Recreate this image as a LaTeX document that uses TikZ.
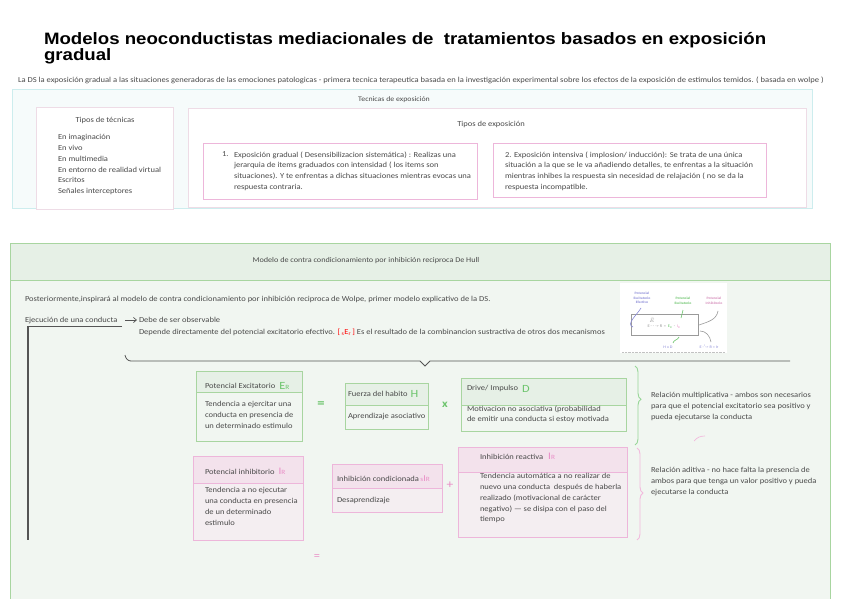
\documentclass[tikz,border=0pt]{standalone}
\usepackage{fontspec}
\setmainfont{Carlito}[FakeStretch=1.12]
\newfontfamily\titlefont{Liberation Sans}[FakeStretch=1.13]
\usetikzlibrary{decorations.pathreplacing,arrows.meta}
\definecolor{txt}{HTML}{4A4A4A}
\definecolor{cyanb}{HTML}{CDEDEE}
\definecolor{cyanf}{HTML}{F6FBFB}
\definecolor{pinkb}{HTML}{EDB6DA}
\definecolor{pinkl}{HTML}{EEDCE6}
\definecolor{pinkh}{HTML}{F3E2EC}
\definecolor{pinkf}{HTML}{F4EEF1}
\definecolor{pinkt}{HTML}{E98CC6}
\definecolor{greenb}{HTML}{A8D5A0}
\definecolor{greenh}{HTML}{E6F0E6}
\definecolor{greenf}{HTML}{F1F6F1}
\definecolor{greent}{HTML}{6CC46C}
\definecolor{linegray}{HTML}{555555}
\definecolor{imgblue}{HTML}{8C8CD8}
\definecolor{imggray}{HTML}{9A9A9A}
\begin{document}
\begin{tikzpicture}[x=1pt,y=-1pt,
  every node/.style={inner sep=0pt, outer sep=0pt},
  t/.style={font=\fontsize{7.6}{10.8}\selectfont, text=txt, align=left},
  ts/.style={font=\fontsize{7}{10}\selectfont, text=txt, align=left},
  cframe/.style={draw=cyanb, line width=1pt, fill=cyanf, rectangle},
  wframe/.style={draw=pinkl, line width=0.8pt, fill=white, rectangle},
  pframe/.style={draw=pinkb, line width=1pt, fill=white, rectangle},
  gframe/.style={draw=greenb, line width=1pt, fill=greenf, rectangle},
  ghead/.style={draw=greenb, line width=1pt, fill=greenh, rectangle},
  pbody/.style={draw=pinkb, line width=1pt, fill=pinkf, rectangle},
  phead/.style={draw=pinkb, line width=1pt, fill=pinkh, rectangle},
  gsym/.style={text=greent, font=\fontsize{11}{11}\selectfont},
  psym/.style={text=pinkt, font=\fontsize{10}{10}\selectfont},
  imgt/.style={font=\fontsize{3.4}{4.4}\selectfont\bfseries, align=center},
]
\useasboundingbox (0,0) rectangle (848,599);
\fill[white] (0,0) rectangle (848,599);

% Title
\node[anchor=north west, align=left, font=\titlefont\bfseries\fontsize{16.5}{14}\selectfont] (title) at (44,32)
  {Modelos neoconductistas mediacionales de \ tratamientos basados en exposición\\gradual};

\node[ts, anchor=base west, font=\fontsize{7.62}{9}\selectfont] (intro) at (18,82.5)
  {La DS la exposición gradual a las situaciones generadoras de las emociones patologicas - primera tecnica terapeutica basada en la investigación experimental sobre los efectos de la exposición de estimulos temidos. ( basada en wolpe )};

% Tecnicas de exposicion
\node[cframe, minimum width=800, minimum height=118] (tecbox) at (412,149) {};
\node[t, font=\fontsize{7}{9}\selectfont] (tectitle) at (394,100) {Tecnicas de exposición};
\node[wframe, minimum width=618, minimum height=99] (inner) at (497,157.5) {};
\node[t] (tiposexp) at (491,124) {Tipos de exposición};
\node[pframe, draw=pinkl, minimum width=137, minimum height=101] (tipos) at (104.5,158.5) {};
\node[t] (tipostitle) at (105,120) {Tipos de técnicas};
\node[t, anchor=north west] (tiposlist) at (58,134.5)
  {En imaginación\\En vivo\\En multimedia\\En entorno de realidad virtual\\Escritos\\Señales interceptores};

\node[pframe, minimum width=274, minimum height=56] (box1) at (340,171) {};
\node[t, anchor=north west] (box1num) at (222,151.5) {1.};
\node[t, anchor=north west] (box1txt) at (234,151.5)
  {Exposición gradual ( Desensibilizacion sistemática) : Realizas una\\
   jerarquia de items graduados con intensidad ( los items son\\
   situaciones). Y te enfrentas a dichas situaciones mientras evocas una\\
   respuesta contraria.};
\node[pframe, minimum width=273, minimum height=54] (box2) at (629.5,170) {};
\node[t, anchor=north west] (box2txt) at (505,151.5)
  {2. Exposición intensiva ( implosion/ inducción): Se trata de una única\\
   situación a la que se le va añadiendo detalles, te enfrentas a la situación\\
   mientras inhibes la respuesta sin necesidad de relajación ( no se da la\\
   respuesta incompatible.};

% Green section
\node[gframe, minimum width=820, minimum height=367] (gsec) at (420,426.5) {};
\node[ghead, minimum width=820, minimum height=37] (ghdr) at (420,261.5) {};
\node[t, font=\fontsize{7.3}{9}\selectfont] (ghdrtxt) at (366,261) {Modelo de contra condicionamiento por inhibición reciproca De Hull};

\node[t, anchor=base west] (post) at (25,301.5)
  {Posteriormente,inspirará al modelo de contra condicionamiento por inhibición reciproca de Wolpe, primer modelo explicativo de la DS.};

\node[t, anchor=base west] (ejec) at (25,322.5) {Ejecución de una conducta};
\coordinate (ulend) at (122,326);
\coordinate (ulcorner) at (28,326);
\coordinate (vend) at (28,540);
\draw[linegray, line width=0.9pt] (ulend) -- (ulcorner);
\draw[linegray, line width=2pt] (ulcorner) -- (vend);
\node[t, anchor=base west] (obs) at (139,322.5) {Debe de ser observable};
\coordinate (arrstart) at (125,320);
\draw[linegray, line width=0.7pt, -{Straight Barb[length=3pt,width=5pt]}] (arrstart) -- ([xshift=-2pt]obs.west |- arrstart);
\node[t, anchor=base west] (dep) at (139,334.5)
  {Depende directamente del potencial  excitatorio efectivo. \textcolor{red}{[\,\textsubscript{s}E\textsubscript{r}\,]} Es el resultado de la combinancion sustractiva de otros dos mecanismos};

% brace line
\coordinate (bl) at (125,355);
\coordinate (bv) at (425,366);
\coordinate (br) at (790,361);
\draw[linegray, line width=0.8pt] (bl) to[out=-80,in=180] (131,361) -- (420,361) -- (bv) -- (430,361) -- (br);

% formula image
\node[rectangle, fill=white, minimum width=107, minimum height=70] (img) at (673.5,318) {};
\draw[imggray!60, densely dotted, line width=0.4pt] (622,352) -- (725,352);
\node[imgt, text=imgblue] (ipe) at (642,298) {Potencial\\Excitatorio\\Efectivo};
\node[imgt, text=greent] (ipx) at (683,301) {Potencial\\Excitatorio};
\node[imgt, text=pinkt!80!gray] (ipi) at (714,301) {Potencial\\Inhibitorio};
\node[rectangle, draw=imggray, line width=0.6pt, minimum width=67, minimum height=21] (ibox) at (664.5,324.5) {};
\node[imgt, text=imggray, font=\fontsize{4}{5}\selectfont] (iform) at (664,327)
  {E\,- - -> R \,=\, \textcolor{greent}{E\textsubscript{R}} \,-\, \textcolor{pinkt}{I\textsubscript{R}}};
\node[imgt, text=imggray, font=\fontsize{3.6}{4}\selectfont] (ibar) at (652,320) {$\bar{E}$};
\node[imgt, text=imgblue, font=\fontsize{3.8}{5}\selectfont] (ihd) at (668,347) {H x D};
\node[imgt, text=imgblue, font=\fontsize{3.8}{5}\selectfont] (ier) at (709,347) {E -\textsuperscript{I}-> R = Ir};
\draw[imgblue, line width=0.6pt] (641,308) to[out=240,in=160] (633,327);
\draw[greent, line width=0.6pt] (683,310) -- (681,318);
\draw[imggray, line width=0.6pt] (718,311) to[out=260,in=20] (699,325);
\draw[greent, line width=0.6pt] (679,337) to[out=250,in=80] (673,343);
\draw[imggray, line width=0.6pt] (700,331) to[out=0,in=100] (711,342);

% Green formula boxes
\node[gframe, minimum width=106, minimum height=70] (pe) at (249,406) {};
\node[ghead, minimum width=106, minimum height=21] (pehead) at (249,381.5) {};
\node[t, anchor=base west] (petitle) at (205,388.5) {Potencial Excitatorio};
\node[gsym, anchor=base west] (pesym) at ([xshift=4pt,yshift=-0.5pt]petitle.base east) {E\fontsize{6.5}{7}\selectfont R};
\node[t, anchor=north west] (pebody) at (205,401.5)
  {Tendencia a ejercitar una\\conducta en presencia de\\un determinado estimulo};

\node[gsym, font=\fontsize{13}{13}\selectfont\bfseries] (eq1) at (321,405) {=};

\node[gframe, minimum width=83, minimum height=46] (fh) at (386.5,406) {};
\node[ghead, minimum width=83, minimum height=22] (fhhead) at (386.5,394) {};
\node[t, anchor=base west] (fhtitle) at (348,396.5) {Fuerza del habito};
\node[gsym, anchor=base west] (fhsym) at ([xshift=3pt,yshift=-1pt]fhtitle.base east) {H};
\node[t, anchor=base west] (fhbody) at (348,418.5) {Aprendizaje asociativo};

\node[gsym, font=\fontsize{11}{11}\selectfont\bfseries] (times) at (445,405) {x};

\node[gframe, minimum width=165, minimum height=53] (dr) at (543.5,404.5) {};
\node[ghead, minimum width=165, minimum height=27] (drhead) at (543.5,391.5) {};
\node[t, anchor=base west] (drtitle) at (467,390.5) {Drive/ Impulso};
\node[gsym, anchor=base west] (drsym) at ([xshift=4pt,yshift=-1.5pt]drtitle.base east) {D};
\node[t, anchor=north west] (drbody) at (467,405.5)
  {Motivacion no asociativa (probabilidad\\de emitir una conducta si estoy motivada};

\coordinate (gbtop) at (635,366);
\coordinate (gbbot) at (635,445);
\draw[greent!70, line width=0.9pt, decorate, decoration={brace, amplitude=6pt, aspect=0.42}] (gbtop) -- (gbbot);
\node[t, anchor=north west] (mult) at (651,392.5)
  {Relación multiplicativa - ambos son necesarios\\para que el potencial excitatorio sea positivo y\\pueda ejecutarse la conducta};

\draw[pinkt!60, line width=0.7pt] (694,441) to[bend left=25] (705,436);

% Pink boxes
\node[pbody, minimum width=110, minimum height=84] (pi) at (248,498) {};
\node[phead, minimum width=110, minimum height=27] (pihead) at (248,469.5) {};
\node[t, anchor=base west] (pititle) at (205,474.5) {Potencial inhibitorio};
\node[psym, anchor=base west] (pisym) at ([xshift=4pt]pititle.base east) {I\fontsize{6.5}{7}\selectfont R};
\node[t, anchor=north west] (pibody) at (205,487.5)
  {Tendencia a no ejecutar\\una conducta en presencia\\de un determinado\\estimulo};

\node[psym, font=\fontsize{12}{12}\selectfont] (plus) at (450,485) {+};

\node[pbody, minimum width=110, minimum height=48] (ic) at (387,488) {};
\node[phead, minimum width=110, minimum height=24] (ichead) at (387,476) {};
\node[t, anchor=base west] (ictitle) at (337,481.5) {Inhibición condicionada};
\node[psym, anchor=base west] (icsym) at ([xshift=1.5pt]ictitle.base east) {\fontsize{6.5}{7}\selectfont s\fontsize{9}{9}\selectfont I\fontsize{6.5}{7}\selectfont R};
\node[t, anchor=base west] (icbody) at (337,502.5) {Desaprendizaje};

\node[pbody, minimum width=169, minimum height=90] (ir) at (542.5,492) {};
\node[phead, minimum width=169, minimum height=25] (irhead) at (542.5,459.5) {};
\node[t, anchor=base west] (irtitle) at (480,459.5) {Inhibición reactiva};
\node[psym, anchor=base west] (irsym) at ([xshift=5pt]irtitle.base east) {I\fontsize{6.5}{7}\selectfont R};
\node[t, anchor=north west] (irbody) at (480,473.5)
  {Tendencia automática a no realizar de\\nuevo una conducta \ después de haberla\\realizado (motivacional de carácter\\negativo) --- se disipa con el paso del\\tiempo};

\node[psym, font=\fontsize{11}{11}\selectfont] (eq2) at (317,557) {=};

\coordinate (pbtop) at (637,448);
\coordinate (pbbot) at (637,540);
\draw[pinkt!60, line width=0.9pt, decorate, decoration={brace, amplitude=6pt, aspect=0.49}] (pbtop) -- (pbbot);
\node[t, anchor=north west] (adit) at (651,467.5)
  {Relación aditiva - no hace falta la presencia de\\ambos para que tenga un valor positivo y pueda\\ejecutarse la conducta};
\end{tikzpicture}
\end{document}
